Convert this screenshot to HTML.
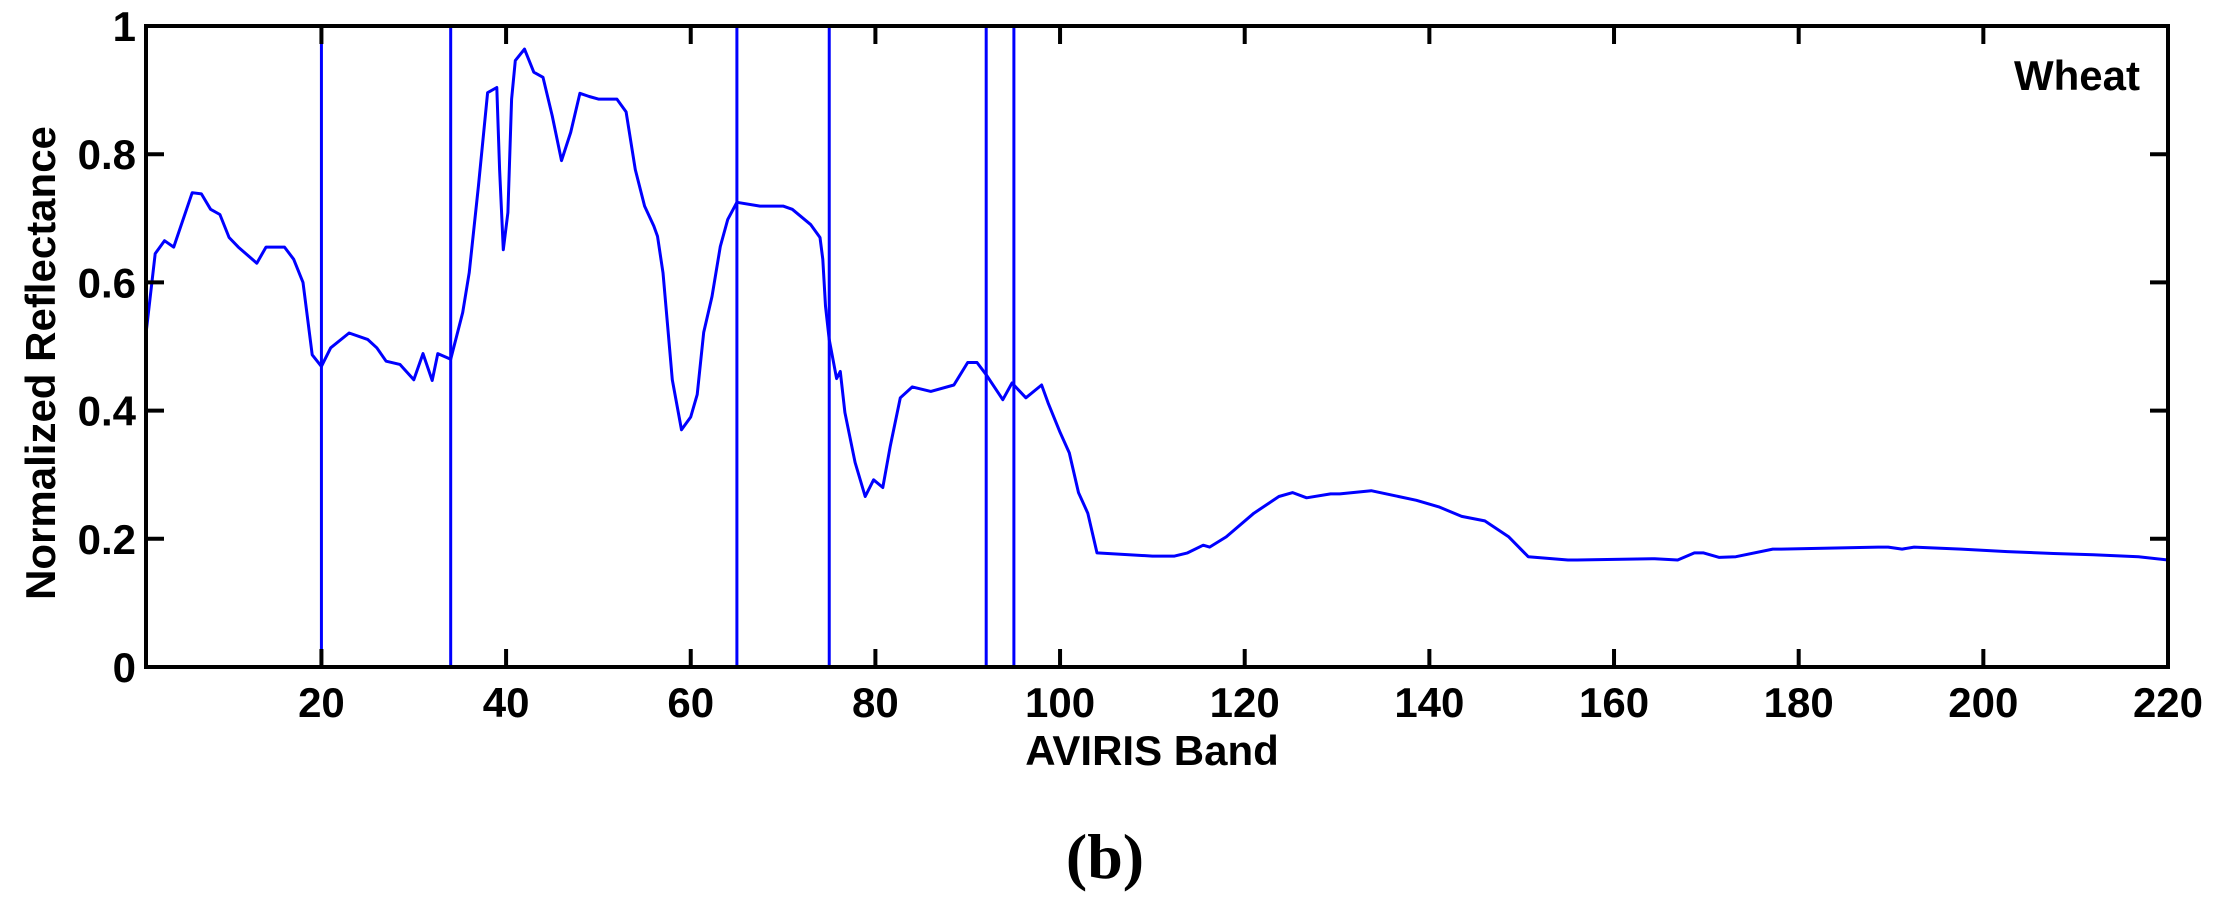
<!DOCTYPE html>
<html><head><meta charset="utf-8"><style>
html,body{margin:0;padding:0;background:#fff;}
svg{display:block;font-family:"Liberation Sans",Arial,sans-serif;}
</style></head><body>
<svg id="chart" width="2219" height="911" viewBox="0 0 2219 911" xmlns="http://www.w3.org/2000/svg">
<rect x="0" y="0" width="2219" height="911" fill="#fff"/>
<g id="marks"></g>
<g id="axes"></g>
<text x="2140" y="90" text-anchor="end" font-size="42" font-weight="bold">Wheat</text>
<text x="1152" y="765" text-anchor="middle" font-size="42" font-weight="bold">AVIRIS Band</text>
<text x="0" y="0" transform="translate(55,363) rotate(-90)" text-anchor="middle" font-size="42" font-weight="bold">Normalized Reflectance</text>
<text x="1105" y="878" text-anchor="middle" font-size="64" font-weight="bold" font-family="'Liberation Serif',serif">(b)</text>
</svg>
<script>
const bands = [1,2,3,4,6,7,8,9,10,11,13,14,16,17,18,19,20,21,23,25,26,27,28.5,30,31,32,32.6,34,35.3,36,37,38,39,39.3,39.7,40.2,40.6,41,42,43,44,45,46,47,48,49,50,52,53,54,55,56,56.4,57,57.5,58,59,60,60.7,61.4,62.3,63.2,64,65,67.5,70,71,73,74,74.3,74.6,75,75.8,76.2,76.7,77.8,78.9,79.8,80.8,81.6,82.7,84,86,88.5,90,91,92,93.8,94.8,96.3,98,98.7,100,101,102,103,104,110,112.4,113.8,115.5,116.2,118,121,123.7,125.2,126.7,129.3,130.3,133.7,136,138.6,141,143.5,146,148.6,150.7,155,156,164.4,166.9,168.7,169.7,171.4,173.2,177.2,178.1,188.6,189.7,191.2,192.5,197.6,202.6,207.6,211.9,216.8,220];
const reflectance = [0.52,0.645,0.665,0.655,0.74,0.738,0.714,0.706,0.67,0.655,0.63,0.655,0.655,0.636,0.6,0.487,0.469,0.498,0.521,0.511,0.498,0.477,0.472,0.448,0.489,0.447,0.489,0.48,0.553,0.615,0.75,0.896,0.904,0.776,0.651,0.709,0.886,0.946,0.964,0.928,0.92,0.86,0.79,0.834,0.895,0.89,0.886,0.886,0.866,0.776,0.719,0.688,0.672,0.615,0.531,0.448,0.37,0.39,0.425,0.522,0.578,0.656,0.698,0.725,0.719,0.719,0.714,0.69,0.67,0.636,0.563,0.511,0.45,0.461,0.397,0.319,0.266,0.292,0.28,0.344,0.42,0.437,0.43,0.44,0.475,0.475,0.456,0.417,0.443,0.42,0.44,0.412,0.366,0.334,0.272,0.24,0.178,0.173,0.173,0.178,0.19,0.187,0.203,0.24,0.266,0.272,0.264,0.27,0.27,0.275,0.268,0.26,0.25,0.235,0.228,0.203,0.172,0.167,0.167,0.169,0.167,0.178,0.178,0.171,0.172,0.184,0.184,0.187,0.187,0.184,0.187,0.184,0.18,0.177,0.175,0.172,0.167,0.167];
const selectedBands = [20,34,65,75,92,95];
const xTicks = [20,40,60,80,100,120,140,160,180,200,220];
const yTicks = [0,0.2,0.4,0.6,0.8,1];
const yTickLabels = ["0","0.2","0.4","0.6","0.8","1"];

const L=146, R=2168, T=26, B=667;
const X0=1, X1=220;
function xs(v){return L+(v-X0)*(R-L)/(X1-X0);}
function ys(v){return B-v*(B-T);}
const NS="http://www.w3.org/2000/svg";
const marks=document.getElementById('marks');
const axes=document.getElementById('axes');
function mk(tag,attrs,parent){const e=document.createElementNS(NS,tag);for(const k in attrs)e.setAttribute(k,attrs[k]);parent.appendChild(e);return e;}

selectedBands.forEach(b=>{
  const ln=mk('line',{x1:xs(b),x2:xs(b),y1:T,y2:B,stroke:'#0000ff','stroke-width':3},marks);
  
  
});
const pts=bands.map((b,i)=>xs(b).toFixed(1)+','+ys(reflectance[i]).toFixed(1)).join(' ');
const pl=mk('polyline',{points:pts,fill:'none',stroke:'#0000ff','stroke-width':3,'stroke-linejoin':'round'},marks);



const frame=mk('rect',{x:L,y:T,width:R-L,height:B-T,fill:'none',stroke:'#000','stroke-width':4},axes);



xTicks.forEach(t=>{
  const x=xs(t);
  if(t<X1){
    mk('line',{x1:x,x2:x,y1:B,y2:B-18,stroke:'#000','stroke-width':4},axes);
    mk('line',{x1:x,x2:x,y1:T,y2:T+18,stroke:'#000','stroke-width':4},axes);
  }
  const tx=mk('text',{x:x,y:717,'text-anchor':'middle','font-size':42,'font-weight':'bold'},axes);
  tx.textContent=t;
  
  
});
yTicks.forEach((t,i)=>{
  const y=ys(t);
  if(t>0&&t<1){
    mk('line',{x1:L,x2:L+18,y1:y,y2:y,stroke:'#000','stroke-width':4},axes);
    mk('line',{x1:R,x2:R-18,y1:y,y2:y,stroke:'#000','stroke-width':4},axes);
  }
  const tx=mk('text',{x:136,y:y+15,'text-anchor':'end','font-size':42,'font-weight':'bold'},axes);
  tx.textContent=yTickLabels[i];
  
  
});
</script>
</body></html>
